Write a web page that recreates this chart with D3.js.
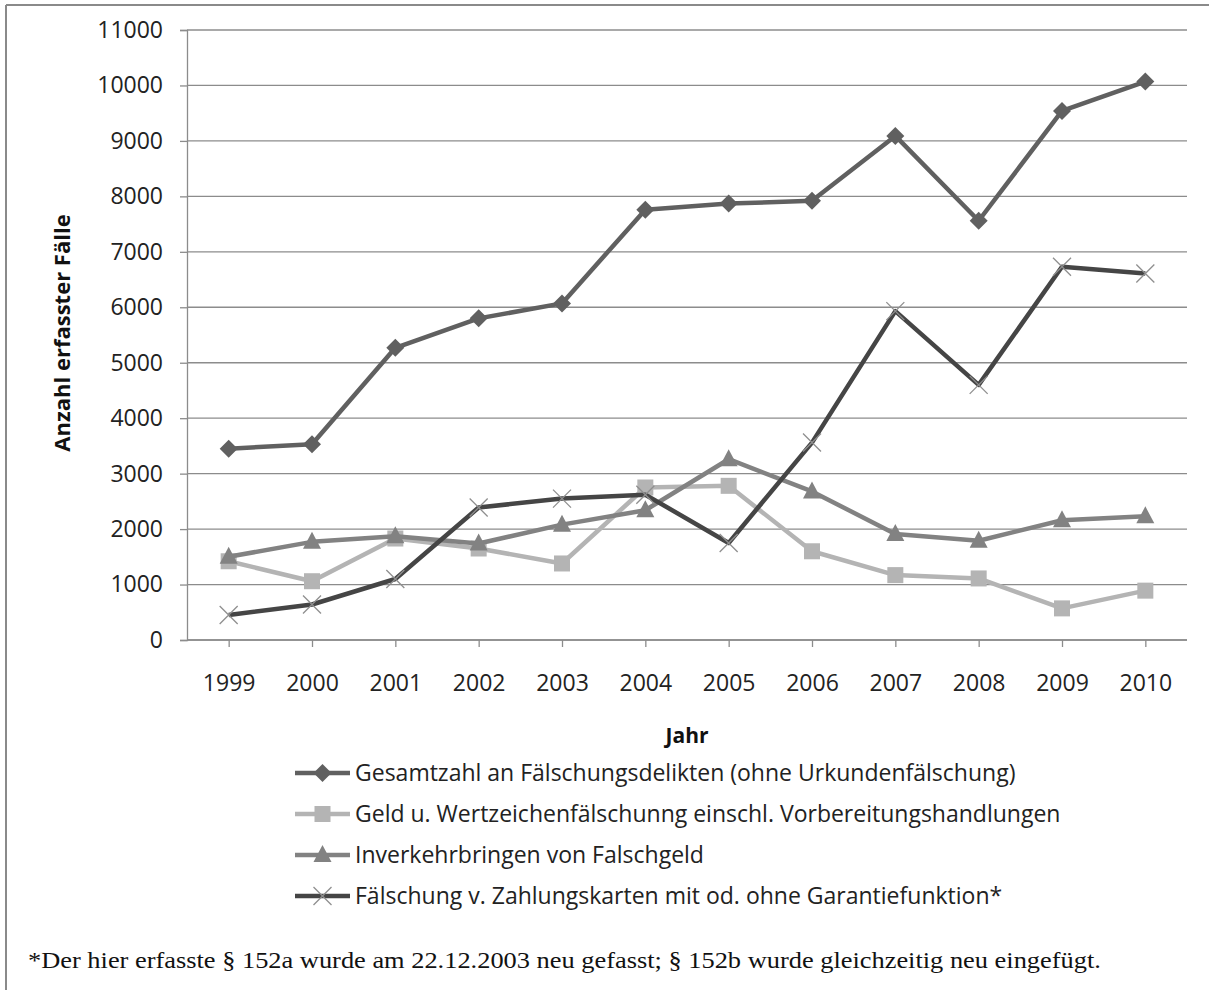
<!DOCTYPE html>
<html><head><meta charset="utf-8">
<script src="https://cdn.jsdelivr.net/npm/d3@7"></script>
<style>
html,body{margin:0;padding:0;background:#fff;}
svg{display:block;}
</style></head>
<body>
<script>
const years = ["1999","2000","2001","2002","2003","2004","2005","2006","2007","2008","2009","2010"];
const gesamt = [3450, 3530, 5270, 5800, 6070, 7760, 7870, 7920, 9090, 7560, 9540, 10070];
const geld = [1420, 1060, 1830, 1650, 1380, 2750, 2780, 1600, 1170, 1110, 570, 890];
const inverkehr = [1500, 1770, 1870, 1740, 2080, 2340, 3260, 2680, 1910, 1790, 2160, 2230];
const karten = [450, 640, 1100, 2390, 2550, 2620, 1750, 3560, 5930, 4600, 6730, 6610];
const yTicks = [0,1000,2000,3000,4000,5000,6000,7000,8000,9000,10000,11000];
const seriesNames = [
  "Gesamtzahl an Fälschungsdelikten (ohne Urkundenfälschung)",
  "Geld u. Wertzeichenfälschunng einschl. Vorbereitungshandlungen",
  "Inverkehrbringen von Falschgeld",
  "Fälschung v. Zahlungskarten mit od. ohne Garantiefunktion*"
];
const footnote = "*Der hier erfasste § 152a wurde am 22.12.2003 neu gefasst; § 152b wurde gleichzeitig neu eingefügt.";

const W = 1209, H = 990;
const svg = d3.select("body").append("svg").attr("width", W).attr("height", H);
const font = "Open Sans, Lato, sans-serif";

// outer frame
svg.append("line").attr("x1",6).attr("x2",W).attr("y1",5).attr("y2",5).attr("stroke","#8a8a8a").attr("stroke-width",2);
svg.append("line").attr("x1",6).attr("x2",6).attr("y1",5).attr("y2",H).attr("stroke","#8a8a8a").attr("stroke-width",2);

const pLeft = 187, pRight = 1187, pTop = 30, pBottom = 640;
const x = d3.scalePoint().domain(years).range([pLeft, pRight]).padding(0.5);
const y = d3.scaleLinear().domain([0, 11000]).range([pBottom, pTop]);

// gridlines
svg.append("g").selectAll("line").data(yTicks).join("line")
  .attr("x1", pLeft).attr("x2", pRight)
  .attr("y1", d => y(d)).attr("y2", d => y(d))
  .attr("stroke", "#8c8c8c").attr("stroke-width", 1.3);

// y axis
const yAxis = svg.append("g").attr("transform", `translate(${pLeft},0)`)
  .call(d3.axisLeft(y).tickValues(yTicks).tickSize(7).tickPadding(17).tickFormat(d3.format("d")));
yAxis.select(".domain").attr("stroke", "#8c8c8c").attr("stroke-width", 1.3);
yAxis.selectAll(".tick line").attr("stroke", "#8c8c8c").attr("stroke-width", 1.3);
yAxis.selectAll("text").attr("font-family", font).attr("font-size", 23).attr("fill", "#222");

// x axis
const xAxis = svg.append("g").attr("transform", `translate(0,${pBottom})`)
  .call(d3.axisBottom(x).tickSize(7).tickPadding(28).tickSizeOuter(0));
xAxis.select(".domain").attr("stroke", "#8c8c8c").attr("stroke-width", 1.3).attr("d", `M${pLeft},0H${pRight}`);
xAxis.selectAll(".tick line").attr("stroke", "#8c8c8c").attr("stroke-width", 1.3);
xAxis.selectAll("text").attr("font-family", font).attr("font-size", 23).attr("fill", "#222");

// axis titles
svg.append("text").attr("transform", `translate(70,333) rotate(-90)`)
  .attr("text-anchor", "middle").attr("font-family", font).attr("font-weight", "bold")
  .attr("font-size", 22).attr("fill", "#111").text("Anzahl erfasster Fälle");
svg.append("text").attr("x", 687).attr("y", 743).attr("text-anchor", "middle")
  .attr("font-family", font).attr("font-weight", "bold").attr("font-size", 21).attr("fill", "#111").text("Jahr");

const series = [
  {values: gesamt, line: "#606060", mark: "#606060", sym: "diamond"},
  {values: geld, line: "#b4b4b4", mark: "#b4b4b4", sym: "square"},
  {values: inverkehr, line: "#828282", mark: "#828282", sym: "triangle"},
  {values: karten, line: "#454545", mark: "#8f8f8f", sym: "cross"}
];

function drawMarker(g, sym, cx, cy, color) {
  if (sym === "diamond") {
    g.append("path").attr("d", `M${cx},${cy-9}L${cx+9},${cy}L${cx},${cy+9}L${cx-9},${cy}Z`).attr("fill", color);
  } else if (sym === "square") {
    g.append("rect").attr("x", cx-8).attr("y", cy-8).attr("width", 16).attr("height", 16).attr("fill", color);
  } else if (sym === "triangle") {
    g.append("path").attr("d", `M${cx},${cy-10}L${cx+9},${cy+7}L${cx-9},${cy+7}Z`).attr("fill", color);
  } else {
    g.append("path").attr("d", `M${cx-9},${cy-9}L${cx+9},${cy+9}M${cx-9},${cy+9}L${cx+9},${cy-9}`)
      .attr("stroke", color).attr("stroke-width", 1.3).attr("fill", "none");
  }
}

const lineGen = d3.line().x((d,i) => x(years[i])).y(d => y(d));
series.forEach(s => {
  const g = svg.append("g");
  g.append("path").datum(s.values).attr("d", lineGen).attr("fill", "none")
    .attr("stroke", s.line).attr("stroke-width", 4.5).attr("stroke-linejoin", "round");
  s.values.forEach((v,i) => drawMarker(g, s.sym, x(years[i]), y(v), s.mark));
});

// legend
const legY0 = 773, legStep = 41;
series.forEach((s, i) => {
  const ly = legY0 + i*legStep;
  const g = svg.append("g");
  g.append("line").attr("x1", 295).attr("x2", 350).attr("y1", ly).attr("y2", ly)
    .attr("stroke", s.line).attr("stroke-width", 4.5);
  drawMarker(g, s.sym, 322.5, ly, s.mark);
  g.append("text").attr("x", 355).attr("y", ly + 8).attr("font-family", font)
    .attr("font-size", 23).attr("fill", "#222").text(seriesNames[i]);
});

// footnote
svg.append("text").attr("transform", "translate(28,968) scale(1.1,1)")
  .attr("font-family", "Liberation Serif, Times New Roman, serif")
  .attr("font-size", 24).attr("fill", "#111").text(footnote);
</script>
</body></html>
